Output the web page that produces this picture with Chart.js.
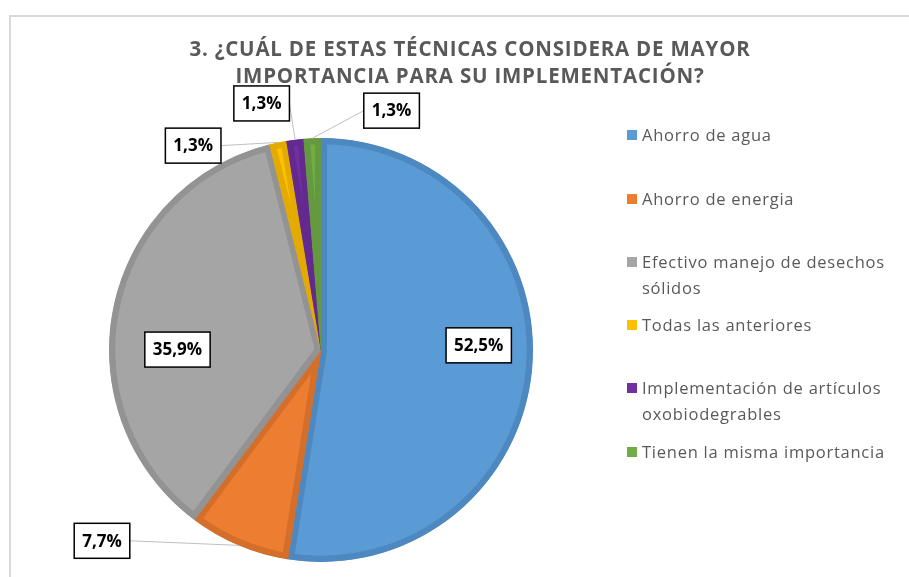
<!DOCTYPE html>
<html>
<head>
<meta charset="utf-8">
<script src="https://cdn.jsdelivr.net/npm/chart.js@4"></script>
<style>
  html, body { margin: 0; padding: 0; background: #fff; overflow: hidden; }
  #wrap { position: relative; width: 909px; height: 577px; overflow: hidden; }
  #frame { position: absolute; left: 9px; top: 15px; width: 1000px; height: 1000px; border: 2px solid #d9d9d9; }
  #chartBox { position: absolute; left: 0; top: 0; width: 909px; height: 577px; }
  #title { position: absolute; left: 120px; width: 700px; top: 35px; text-align: center;
    font-family: "Open Sans", Lato, sans-serif; font-weight: bold; font-size: 20.5px; line-height: 27px;
    letter-spacing: 0.8px; color: #595959; }
  .legend-item { position: absolute; left: 627px; width: 280px;
    font-family: "Open Sans", Lato, sans-serif; font-size: 16.5px; line-height: 26px;
    letter-spacing: 0.75px; color: #595959; }
  .legend-item .sw { position: absolute; left: 0; top: 8px; width: 10px; height: 10px; }
  .legend-item .tx { margin-left: 15px; }
</style>
</head>
<body>
<div id="wrap">
  <div id="frame"></div>
  <div id="chartBox"><canvas id="pie"></canvas></div>
  <div id="title">3. ¿CUÁL DE ESTAS TÉCNICAS CONSIDERA DE MAYOR<br>IMPORTANCIA PARA SU IMPLEMENTACIÓN?</div>
  <div id="legend"></div>
</div>
<script>
const categories = [
  'Ahorro de agua',
  'Ahorro de energia',
  'Efectivo manejo de desechos sólidos',
  'Todas las anteriores',
  'Implementación de artículos oxobiodegrables',
  'Tienen la misma importancia'
];
const percentages = [52.5, 7.7, 35.9, 1.3, 1.3, 1.3];
const sliceColors = ['#5b9bd5', '#ed7d31', '#a5a5a5', '#ffc000', '#7030a0', '#70ad47'];
const sliceBorders = ['#4e88c0', '#d36e2b', '#939393', '#e3ab00', '#64298f', '#64993f'];
const legendTops = [122, 186, 249, 312, 375, 439];

// label box centres, relative to the pie centre in units of the radius
const labelSpots = [
  { dx: 0.744, dy: -0.022, leader: false },
  { dx: -1.033, dy: 0.900, leader: true },
  { dx: -0.677, dy: -0.002, leader: false },
  { dx: -0.603, dy: -0.964, leader: true },
  { dx: -0.280, dy: -1.163, leader: true },
  { dx: 0.333, dy: -1.129, leader: true }
];

function formatPct(v) {
  return v.toFixed(1).replace('.', ',') + '%';
}

const boxedLabels = {
  id: 'boxedLabels',
  afterDatasetsDraw(chart) {
    const ctx = chart.ctx;
    const arcs = chart.getDatasetMeta(0).data;
    ctx.save();
    ctx.font = 'bold 17px "Open Sans", Lato, sans-serif';
    arcs.forEach((arc, i) => {
      const spot = labelSpots[i];
      const r = arc.outerRadius;
      const cx = arc.x + spot.dx * r;
      const cy = arc.y + spot.dy * r;
      const text = formatPct(percentages[i]);
      const w = ctx.measureText(text).width + 16;
      const h = 35;
      const left = cx - w / 2;
      const top = cy - h / 2;

      if (spot.leader) {
        const mid = (arc.startAngle + arc.endAngle) / 2;
        const ex = arc.x + Math.cos(mid) * r;
        const ey = arc.y + Math.sin(mid) * r;
        let sx, sy;
        if (ex > left + w) { sx = left + w; sy = cy; }
        else if (ex < left) { sx = left; sy = cy; }
        else { sx = Math.min(Math.max(ex, left), left + w); sy = top + h; }
        ctx.strokeStyle = '#bfbfbf';
        ctx.lineWidth = 1;
        ctx.beginPath();
        ctx.moveTo(sx, sy);
        ctx.lineTo(ex, ey);
        ctx.stroke();
      }

      ctx.fillStyle = '#ffffff';
      ctx.fillRect(left, top, w, h);
      ctx.strokeStyle = '#000000';
      ctx.lineWidth = 1.5;
      ctx.strokeRect(left, top, w, h);
      ctx.fillStyle = '#000000';
      ctx.textAlign = 'center';
      ctx.textBaseline = 'middle';
      ctx.fillText(text, cx, cy + 1);
    });
    ctx.restore();
  }
};

const chart = new Chart(document.getElementById('pie'), {
  type: 'pie',
  data: {
    labels: categories,
    datasets: [{
      data: percentages,
      backgroundColor: sliceColors,
      borderColor: sliceBorders,
      borderWidth: 6,
      borderAlign: 'inner'
    }]
  },
  options: {
    responsive: true,
    maintainAspectRatio: false,
    animation: false,
    layout: { padding: { left: 109, right: 376, top: 138, bottom: 15 } },
    plugins: {
      legend: { display: false },
      title: { display: false },
      tooltip: { enabled: false }
    }
  },
  plugins: [boxedLabels]
});

const legendEl = document.getElementById('legend');
categories.forEach((name, i) => {
  const item = document.createElement('div');
  item.className = 'legend-item';
  item.style.top = legendTops[i] + 'px';
  item.innerHTML = `<span class="sw" style="background:${sliceColors[i]}"></span><div class="tx">${name}</div>`;
  legendEl.appendChild(item);
});
</script>
</body>
</html>
